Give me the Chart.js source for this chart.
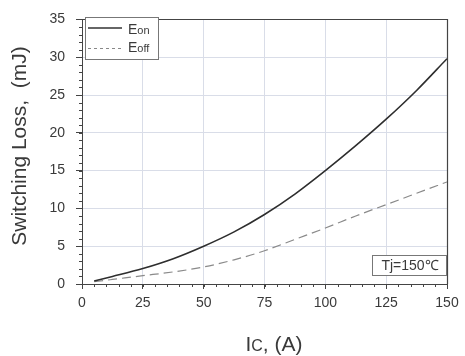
<!DOCTYPE html>
<html>
<head>
<meta charset="utf-8">
<script src="https://cdn.jsdelivr.net/npm/chart.js@4/dist/chart.umd.min.js"></script>
<style>
  html, body { margin: 0; padding: 0; background: #fff; }
  #wrap { width: 465px; height: 356px; position: relative; }
</style>
</head>
<body>
<div id="wrap"><canvas id="c"></canvas></div>
<script>
// collector current (A)
const current = [5, 12.5, 25, 37.5, 50, 62.5, 75, 87.5, 100, 112.5, 125, 137.5, 150];
// switching losses at Tj = 150 °C (mJ)
const eOn = [0.4, 1.0, 2.05, 3.35, 5.0, 6.9, 9.2, 11.9, 15.0, 18.3, 21.8, 25.6, 29.8];
const eOff = [0.3, 0.6, 1.1, 1.6, 2.25, 3.2, 4.4, 5.9, 7.4, 9.0, 10.5, 12.0, 13.5];

const xTicks = [0, 25, 50, 75, 100, 125, 150];
const yTicks = [0, 5, 10, 15, 20, 25, 30, 35];

const FONT = '"Liberation Sans", Arial, sans-serif';
const INK = '#3a3a3a';

function pts(ys) {
  return current.map((x, i) => ({ x: x, y: ys[i] }));
}

// frame, minor ticks, legend, annotation, axis titles
const decor = {
  id: 'decor',
  afterDraw(chart) {
    const ctx = chart.ctx;
    const a = chart.chartArea;
    const xs = chart.scales.x, ys = chart.scales.y;
    ctx.save();

    // top and right edges of the frame
    const r = Math.round(a.right) + 0.5;
    ctx.strokeStyle = '#444';
    ctx.lineWidth = 1.2;
    ctx.beginPath();
    ctx.moveTo(a.left, Math.round(a.top) + 0.5);
    ctx.lineTo(r, Math.round(a.top) + 0.5);
    ctx.lineTo(r, a.bottom);
    ctx.stroke();

    // minor ticks
    ctx.lineWidth = 1;
    ctx.beginPath();
    for (let v = 0; v <= 150; v += 5) {
      const px = Math.round(xs.getPixelForValue(v)) + 0.5;
      ctx.moveTo(px, a.bottom);
      ctx.lineTo(px, a.bottom + 3);
    }
    for (let v = 0; v <= 35; v += 1) {
      const py = Math.round(ys.getPixelForValue(v)) + 0.5;
      ctx.moveTo(a.left, py);
      ctx.lineTo(a.left - 3, py);
    }
    ctx.stroke();

    // legend box
    const lx = 85, ly = 17, lw = 73, lh = 42;
    ctx.fillStyle = '#fff';
    ctx.fillRect(lx, ly, lw, lh);
    ctx.strokeStyle = '#777';
    ctx.strokeRect(lx + 0.5, ly + 0.5, lw, lh);

    ctx.lineWidth = 1.4;
    ctx.strokeStyle = '#333';
    ctx.beginPath();
    ctx.moveTo(88, 28);
    ctx.lineTo(122, 28);
    ctx.stroke();

    ctx.lineWidth = 1;
    ctx.strokeStyle = '#888';
    ctx.setLineDash([3, 3]);
    ctx.beginPath();
    ctx.moveTo(88, 48.5);
    ctx.lineTo(122, 48.5);
    ctx.stroke();
    ctx.setLineDash([]);

    ctx.fillStyle = INK;
    ctx.textBaseline = 'alphabetic';
    ctx.textAlign = 'left';
    const sub = (main, small, x, y) => {
      ctx.font = '14px ' + FONT;
      ctx.fillText(main, x, y);
      const w = ctx.measureText(main).width;
      ctx.font = '11px ' + FONT;
      ctx.fillText(small, x + w, y);
    };
    sub('E', 'on', 128, 33.5);
    sub('E', 'off', 128, 52);

    // junction temperature note
    const bx = 372, by = 255, bw = 74, bh = 20;
    ctx.fillStyle = '#fff';
    ctx.fillRect(bx, by, bw, bh);
    ctx.strokeStyle = '#777';
    ctx.strokeRect(bx + 0.5, by + 0.5, bw, bh);
    ctx.fillStyle = INK;
    ctx.font = '14px ' + FONT;
    ctx.textAlign = 'center';
    ctx.fillText('Tj=150℃', bx + bw / 2 + 1, by + 15);

    // x axis title: I with small-cap C
    ctx.textAlign = 'left';
    ctx.font = '21px ' + FONT;
    const wI = ctx.measureText('I').width;
    const wRest = ctx.measureText(', (A)').width;
    ctx.font = '16px ' + FONT;
    const wC = ctx.measureText('C').width;
    let tx = 274 - (wI + wC + wRest) / 2;
    ctx.font = '21px ' + FONT;
    ctx.fillText('I', tx, 351);
    tx += wI;
    ctx.font = '16px ' + FONT;
    ctx.fillText('C', tx, 351);
    tx += wC;
    ctx.font = '21px ' + FONT;
    ctx.fillText(', (A)', tx, 351);

    // y axis title
    ctx.translate(26, 146);
    ctx.rotate(-Math.PI / 2);
    ctx.textAlign = 'center';
    ctx.font = '21px ' + FONT;
    ctx.fillText('Switching Loss,  (mJ)', 0, 0);

    ctx.restore();
  }
};

new Chart(document.getElementById('c'), {
  type: 'line',
  data: {
    datasets: [
      {
        label: 'Eon',
        data: pts(eOn),
        borderColor: '#2e2e2e',
        borderWidth: 1.6,
        pointRadius: 0,
        cubicInterpolationMode: 'monotone'
      },
      {
        label: 'Eoff',
        data: pts(eOff),
        borderColor: '#8a8a8a',
        borderWidth: 1.2,
        borderDash: [9, 5],
        pointRadius: 0,
        cubicInterpolationMode: 'monotone'
      }
    ]
  },
  options: {
    responsive: true,
    maintainAspectRatio: false,
    animation: false,
    layout: { padding: { top: 15, right: 18, left: 0, bottom: 0 } },
    plugins: {
      legend: { display: false },
      tooltip: { enabled: false }
    },
    scales: {
      x: {
        type: 'linear',
        min: 0,
        max: 150,
        afterBuildTicks: s => { s.ticks = xTicks.map(v => ({ value: v })); },
        afterFit: s => { s.height = 72; },
        grid: {
          color: '#d9dde8',
          tickColor: '#444',
          tickLength: 5,
          drawTicks: true
        },
        border: { color: '#444', width: 1 },
        ticks: {
          color: INK,
          font: { family: FONT, size: 14 },
          padding: 6,
          maxRotation: 0
        }
      },
      y: {
        min: 0,
        max: 35,
        afterBuildTicks: s => { s.ticks = yTicks.map(v => ({ value: v })); },
        afterFit: s => { s.width = 82; },
        grid: {
          color: '#d9dde8',
          tickColor: '#444',
          tickLength: 6,
          drawTicks: true
        },
        border: { color: '#444', width: 1 },
        ticks: {
          color: INK,
          font: { family: FONT, size: 14 },
          padding: 11
        }
      }
    }
  },
  plugins: [decor]
});
</script>
</body>
</html>
